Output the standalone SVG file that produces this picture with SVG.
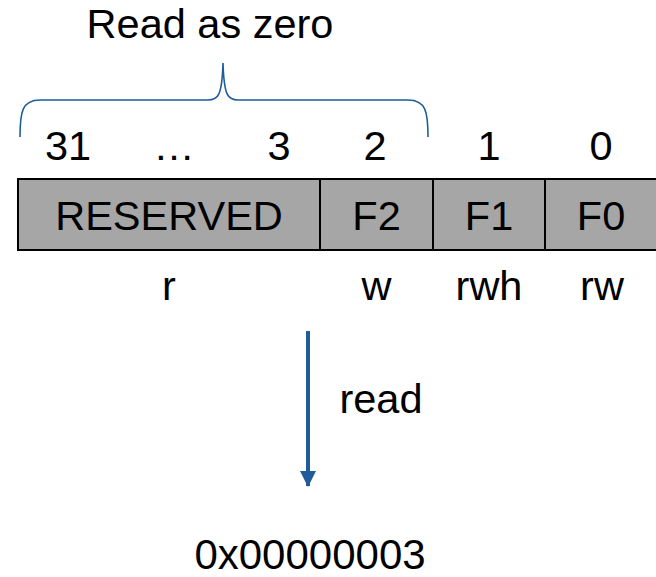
<svg xmlns="http://www.w3.org/2000/svg" width="656" height="577" viewBox="0 0 656 577">
  <defs>
    <style>
      .t { font-family: "Liberation Sans", Arial, sans-serif; font-size: 41.5px; fill: #000; text-anchor: middle; }
      .cell { fill: #a6a6a6; stroke: #000; stroke-width: 2; }
      .blue { stroke: #1f5c99; fill: none; }
    </style>
    <marker id="arrowhead" markerUnits="userSpaceOnUse" markerWidth="16" markerHeight="16" refX="15" refY="8" orient="auto">
      <path d="M0,0 L16,8 L0,16 Z" fill="#1f5c99"/>
    </marker>
  </defs>
  <rect width="656" height="577" fill="#fff"/>

  <!-- brace over the reserved bits -->
  <g id="brace">
    <path class="blue" stroke-width="1.6" d="M20,137 C20,112 22,100 40,100 L208,100 C218,100 222,96 223,63 C224,96 228,100 238,100 L408,100 C426,100 428,112 428,137"/>
    <text class="t" x="210" y="38">Read as zero</text>
  </g>

  <!-- bit numbers -->
  <g id="bit-numbers">
    <text class="t" x="68" y="160">31</text>
    <text class="t" x="174" y="160">…</text>
    <text class="t" x="279" y="160">3</text>
    <text class="t" x="375" y="160">2</text>
    <text class="t" x="489" y="160">1</text>
    <text class="t" x="601" y="160">0</text>
  </g>

  <!-- register fields -->
  <g id="field-reserved">
    <rect class="cell" x="18" y="179" width="302" height="71"/>
    <text class="t" x="169" y="230">RESERVED</text>
    <text class="t" x="169" y="300">r</text>
  </g>
  <g id="field-f2">
    <rect class="cell" x="320" y="179" width="113" height="71"/>
    <text class="t" x="376.5" y="230">F2</text>
    <text class="t" x="376.5" y="300">w</text>
  </g>
  <g id="field-f1">
    <rect class="cell" x="433" y="179" width="112" height="71"/>
    <text class="t" x="489" y="230">F1</text>
    <text class="t" x="489" y="300">rwh</text>
  </g>
  <g id="field-f0">
    <rect class="cell" x="545" y="179" width="113" height="71"/>
    <text class="t" x="601" y="230">F0</text>
    <text class="t" x="602" y="300">rw</text>
  </g>

  <!-- read connector -->
  <g id="connectors">
    <line class="blue" stroke-width="4" x1="308" y1="331" x2="308" y2="486" marker-end="url(#arrowhead)"/>
    <text class="t" x="381" y="413">read</text>
  </g>

  <g id="result">
    <text class="t" x="310" y="569" style="font-size:42px">0x00000003</text>
  </g>
</svg>
